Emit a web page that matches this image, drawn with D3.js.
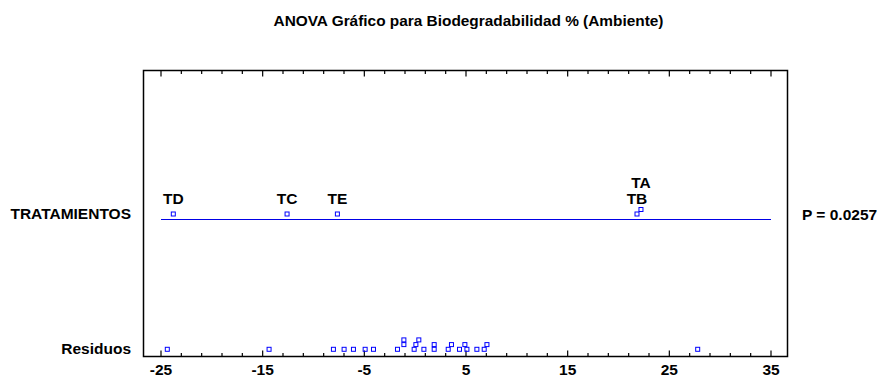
<!DOCTYPE html>
<html>
<head>
<meta charset="utf-8">
<script src="https://cdn.jsdelivr.net/npm/d3@7"></script>
<style>
  html, body { margin: 0; padding: 0; background: #fff; }
  svg { display: block; font-family: "Liberation Sans", Arial, sans-serif; font-weight: bold; }
</style>
</head>
<body>
<svg id="chart" width="877" height="378"></svg>
<script>
// Treatment effects (group mean minus grand mean)
const treatments = ["TD", "TC", "TE", "TB", "TA"];
const treatmentEffects = [-23.79, -12.60, -7.65, 21.82, 22.21];

// Scaled residuals
const residuals = [
  -24.38, -14.37, -8.04, -6.99, -6.07, -4.92, -4.10, -1.74, -1.11, -1.11,
  -0.10, 0.07, 0.36, 0.86, 1.87, 1.87, 3.25, 3.57, 4.36, 5.09,
  4.89, 6.07, 6.79, 7.06, 27.79
];

const rowLabels = ["TRATAMIENTOS", "Residuos"];
const pLabel = "P = 0.0257";
const title = "ANOVA Gráfico para Biodegradabilidad % (Ambiente)";

const majorTicks = [-25, -15, -5, 5, 15, 25, 35];
const minorTicks = d3.range(-25, 35.001, 2);

// ---- layout ----
const frame = { left: 143.5, right: 787.5, top: 70.5, bottom: 356.5 };
const x = d3.scaleLinear().domain([-25, 35]).range([161, 771]);
const trtLineY = 219.5;
const symbol = 5;           // outer size of the square markers
const stackGap = 6.9;       // markers closer than this (px) are stacked
const stackStep = 4.7;
const blue = "#0000ff";
const fontSize = 15.5;

const svg = d3.select("#chart");

// stack overlapping markers upward: each point takes the lowest free level
function stackLevels(values) {
  const order = values.map((v, i) => i).sort((a, b) => values[a] - values[b]);
  const levels = [];
  const out = new Array(values.length);
  order.forEach(i => {
    const px = x(values[i]);
    let lvl = 0;
    while (levels[lvl] && levels[lvl].some(p => Math.abs(p - px) < stackGap)) lvl++;
    (levels[lvl] = levels[lvl] || []).push(px);
    out[i] = lvl;
  });
  return out;
}

// title
svg.append("text")
  .attr("x", 468.5)
  .attr("y", 26)
  .attr("text-anchor", "middle")
  .attr("font-size", 15.4)
  .text(title);

// frame
svg.append("rect")
  .attr("x", frame.left).attr("y", frame.top)
  .attr("width", frame.right - frame.left)
  .attr("height", frame.bottom - frame.top)
  .attr("fill", "none").attr("stroke", "#000").attr("stroke-width", 1.5);

// ticks on top (pointing down) and bottom (pointing up)
const tickLen = d => majorTicks.includes(d) ? 6 : 3.5;
svg.append("g").selectAll("line").data(minorTicks).join("line")
  .attr("x1", d => x(d)).attr("x2", d => x(d))
  .attr("y1", frame.bottom).attr("y2", d => frame.bottom - tickLen(d))
  .attr("stroke", "#000").attr("stroke-width", 1.2);
svg.append("g").selectAll("line").data(minorTicks).join("line")
  .attr("x1", d => x(d)).attr("x2", d => x(d))
  .attr("y1", frame.top).attr("y2", d => frame.top + tickLen(d))
  .attr("stroke", "#000").attr("stroke-width", 1.2);

// tick labels
svg.append("g").selectAll("text").data(majorTicks).join("text")
  .attr("x", d => x(d))
  .attr("y", 375)
  .attr("text-anchor", "middle")
  .attr("font-size", 15.5)
  .text(d => d);

// row labels
svg.append("text")
  .attr("x", 131).attr("y", 219)
  .attr("text-anchor", "end").attr("font-size", fontSize)
  .text(rowLabels[0]);
svg.append("text")
  .attr("x", 131).attr("y", 354)
  .attr("text-anchor", "end").attr("font-size", fontSize)
  .text(rowLabels[1]);
svg.append("text")
  .attr("x", 802).attr("y", 220)
  .attr("text-anchor", "start").attr("font-size", fontSize)
  .text(pLabel);

// treatment baseline
svg.append("line")
  .attr("x1", x(-25)).attr("x2", x(35))
  .attr("y1", trtLineY).attr("y2", trtLineY)
  .attr("stroke", "#0000e6").attr("stroke-width", 1);

// treatment markers and labels
const trtLevels = stackLevels(treatmentEffects);
const trtY = lvl => 214 - lvl * 4.5;
const trt = svg.append("g");
trt.selectAll("rect").data(treatmentEffects).join("rect")
  .attr("x", d => x(d) - (symbol - 1) / 2)
  .attr("y", (d, i) => trtY(trtLevels[i]) - (symbol - 1) / 2)
  .attr("width", symbol - 1).attr("height", symbol - 1)
  .attr("fill", "none").attr("stroke", blue).attr("stroke-width", 1);
trt.selectAll("text").data(treatmentEffects).join("text")
  .attr("x", d => x(d))
  .attr("y", (d, i) => 204 - trtLevels[i] * 16)
  .attr("text-anchor", "middle")
  .attr("font-size", fontSize)
  .text((d, i) => treatments[i]);

// residual markers
const resLevels = stackLevels(residuals);
const resBaseY = 349.3;
svg.append("g").selectAll("rect").data(residuals).join("rect")
  .attr("x", d => x(d) - (symbol - 1) / 2)
  .attr("y", (d, i) => resBaseY - resLevels[i] * stackStep - (symbol - 1) / 2)
  .attr("width", symbol - 1).attr("height", symbol - 1)
  .attr("fill", "none").attr("stroke", blue).attr("stroke-width", 1);
</script>
</body>
</html>
